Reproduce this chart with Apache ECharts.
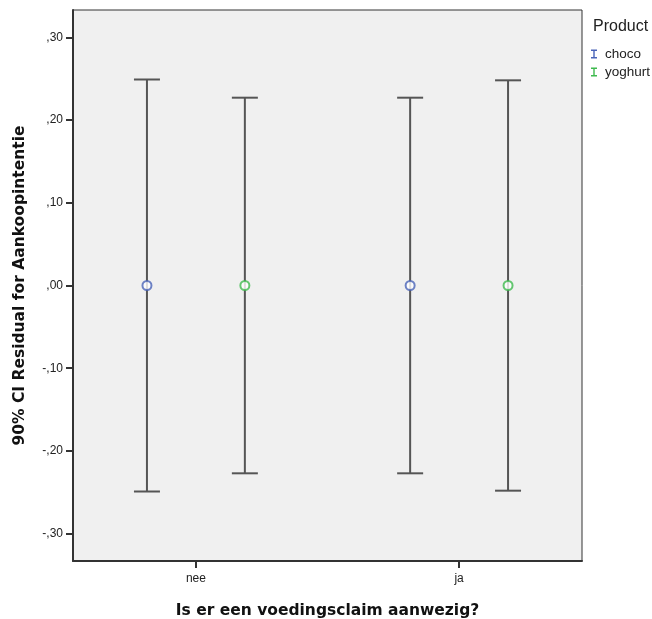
<!DOCTYPE html>
<html>
<head>
<meta charset="utf-8">
<script src="https://cdn.jsdelivr.net/npm/echarts@6/dist/echarts.min.js"></script>
<style>
    html, body { margin: 0; padding: 0; background: #fff; }
    #chart { width: 652px; height: 619px; }
</style>
</head>
<body>
<div id="chart"></div>
<script>
    // data
    var categories = ['nee', 'ja'];
    var yTicks = [-0.3, -0.2, -0.1, 0, 0.1, 0.2, 0.3];
    var chocoMean = [0, 0];
    var chocoLow = [-0.249, -0.227];
    var chocoHigh = [0.249, 0.227];
    var yoghurtMean = [0, 0];
    var yoghurtLow = [-0.227, -0.248];
    var yoghurtHigh = [0.227, 0.248];

    var offset = 0.186;
    var chocoColor = '#4a64b8';
    var yoghurtColor = '#3fba4f';
    var font = 'Liberation Sans, Arial, sans-serif';
    var titleFont = 'DejaVu Sans, sans-serif';

    function barData(low, high, shift) {
        return categories.map(function (c, i) { return [i + shift, low[i], high[i]]; });
    }
    function meanData(mean, shift) {
        return categories.map(function (c, i) { return [i + shift, mean[i]]; });
    }

    function renderBar(params, api) {
        var x = api.value(0);
        var lo = api.coord([x, api.value(1)]);
        var hi = api.coord([x, api.value(2)]);
        var half = 13;
        var style = { stroke: '#555', lineWidth: 2 };
        return {
            type: 'group',
            children: [
                { type: 'line', shape: { x1: hi[0], y1: hi[1], x2: lo[0], y2: lo[1] }, style: style },
                { type: 'line', shape: { x1: hi[0] - half, y1: hi[1], x2: hi[0] + half, y2: hi[1] }, style: style },
                { type: 'line', shape: { x1: lo[0] - half, y1: lo[1], x2: lo[0] + half, y2: lo[1] }, style: style }
            ]
        };
    }

    var fmt = function (v) {
        var s = Math.abs(v).toFixed(2).replace('0.', ',');
        return (v < -1e-9 ? '-' : '') + s;
    };

    var chart = echarts.init(document.getElementById('chart'));
    var iBeam = 'path://M0,0H6V1.4H3.7V7.6H6V9H0V7.6H2.3V1.4H0Z';

    chart.setOption({
        animation: false,
        title: {
            text: 'Product', left: 588, top: 14,
            textStyle: { fontFamily: font, fontSize: 16, fontWeight: 'normal', color: '#222' }
        },
        legend: {
            orient: 'vertical', left: 586, top: 42, itemGap: 4,
            itemWidth: 6, itemHeight: 9,
            textStyle: { fontFamily: font, fontSize: 13.5, color: '#222', padding: [0, 0, 0, 3] },
            data: [
                { name: 'choco', icon: iBeam, itemStyle: { color: chocoColor } },
                { name: 'yoghurt', icon: iBeam, itemStyle: { color: yoghurtColor } }
            ]
        },
        grid: {
            left: 73, top: 10, width: 509, height: 551,
            containLabel: false, outerBoundsMode: 'none',
            show: true, backgroundColor: '#f0f0f0', borderColor: '#333', borderWidth: 1
        },
        xAxis: {
            type: 'value', min: -0.467, max: 1.467,
            name: 'Is er een voedingsclaim aanwezig?', nameLocation: 'middle', nameGap: 42,
            nameTextStyle: { fontFamily: titleFont, fontSize: 15.5, fontWeight: 'bold', color: '#111' },
            splitLine: { show: false },
            axisLine: { onZero: false, lineStyle: { color: '#333', width: 2 } },
            axisTick: { customValues: [0, 1], length: 7, lineStyle: { color: '#333', width: 2 } },
            axisLabel: {
                customValues: [0, 1], margin: 12,
                fontFamily: font, fontSize: 12, color: '#222',
                formatter: function (v) { return categories[Math.round(v)]; }
            }
        },
        yAxis: {
            type: 'value', min: -0.333, max: 0.333,
            name: '90% CI Residual for Aankoopintentie', nameLocation: 'middle', nameGap: 45,
            nameTextStyle: { fontFamily: titleFont, fontSize: 15.5, fontWeight: 'bold', color: '#111' },
            splitLine: { show: false },
            axisLine: { show: true, onZero: false, lineStyle: { color: '#333', width: 2 } },
            axisTick: { show: true, customValues: yTicks, length: 7, lineStyle: { color: '#333', width: 2 } },
            axisLabel: {
                customValues: yTicks, margin: 10,
                fontFamily: font, fontSize: 12, color: '#222',
                formatter: fmt
            }
        },
        series: [
            {
                name: 'choco', type: 'custom', renderItem: renderBar,
                itemStyle: { color: chocoColor },
                data: barData(chocoLow, chocoHigh, -offset), z: 2
            },
            {
                name: 'yoghurt', type: 'custom', renderItem: renderBar,
                itemStyle: { color: yoghurtColor },
                data: barData(yoghurtLow, yoghurtHigh, offset), z: 2
            },
            {
                name: 'choco', type: 'scatter', symbol: 'emptyCircle', symbolSize: 9,
                itemStyle: { color: chocoColor, borderWidth: 1.5 },
                data: meanData(chocoMean, -offset), z: 3
            },
            {
                name: 'yoghurt', type: 'scatter', symbol: 'emptyCircle', symbolSize: 9,
                itemStyle: { color: yoghurtColor, borderWidth: 1.5 },
                data: meanData(yoghurtMean, offset), z: 3
            }
        ]
    });
</script>
</body>
</html>
